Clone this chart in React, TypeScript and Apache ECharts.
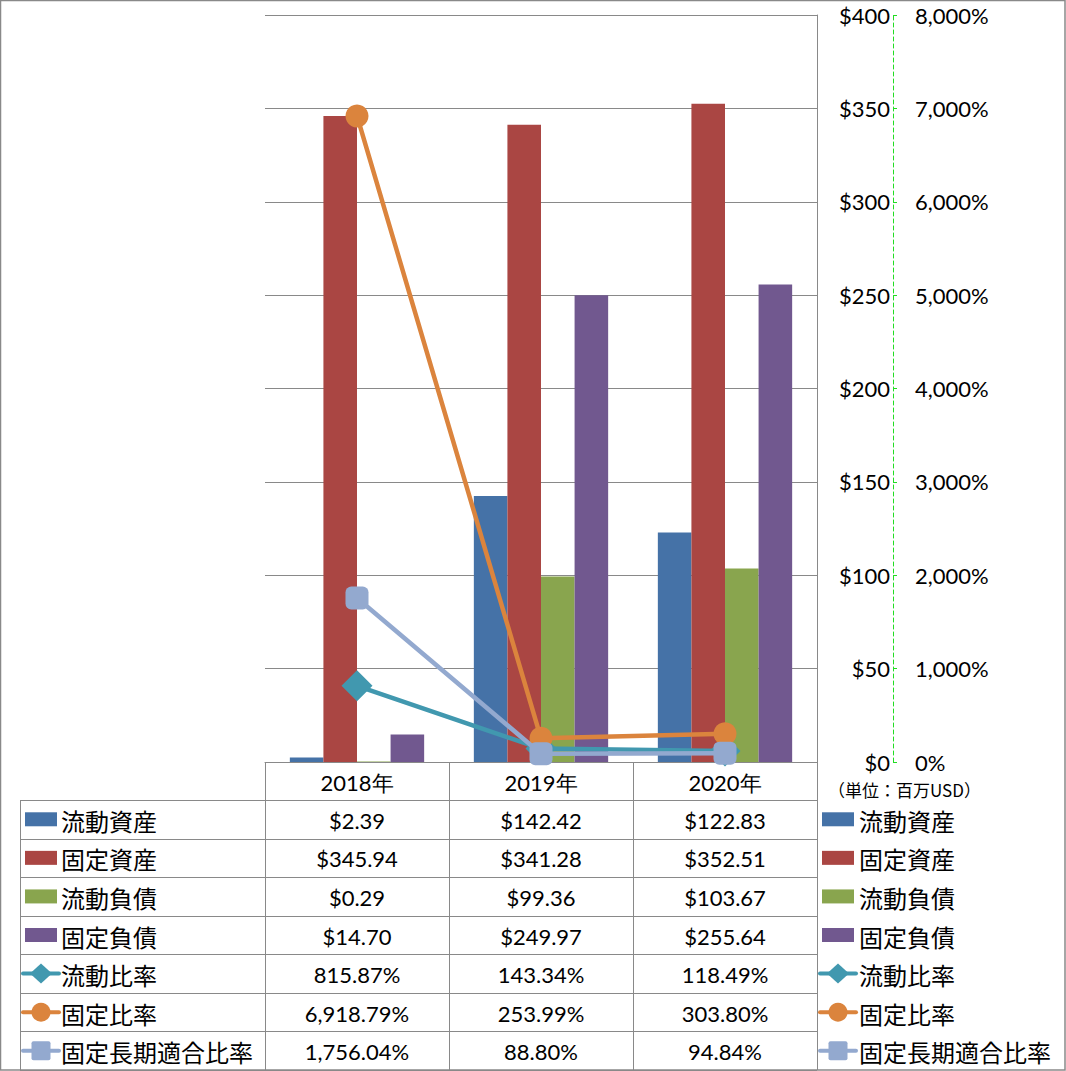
import React, { useEffect, useRef } from "react";
import * as echarts from "echarts";

const years = ["2018年", "2019年", "2020年"];
const barNames = ["流動資産", "固定資産", "流動負債", "固定負債"];
const currentAssets = [2.39, 142.42, 122.83];
const fixedAssets = [345.94, 341.28, 352.51];
const currentLiabilities = [0.29, 99.36, 103.67];
const fixedLiabilities = [14.7, 249.97, 255.64];
const lineNames = ["流動比率", "固定比率", "固定長期適合比率"];
const currentRatio = [815.87, 143.34, 118.49];
const fixedRatio = [6918.79, 253.99, 303.8];
const fixedLongTermRatio = [1756.04, 88.8, 94.84];
const usdAxis = { min: 0, max: 400, interval: 50 };
const pctAxis = { min: 0, max: 8000, interval: 1000 };
const unitLabel = "（単位：百万USD）";

const barColors = ["#4572A7", "#AA4643", "#89A54E", "#71588F"];
const lineColors = ["#4198AF", "#DB843D", "#93A9CF"];
const lineSymbols = ["diamond", "circle", "roundRect"];
const lineSymbolSizes = [31, 23, 23];

const W = 1066;
const H = 1071;
const L = 265;
const R = 817;
const T = 15;
const B = 762;
const TABLE_TOP = 800;
const TABLE_BOTTOM = 1070;
const TABLE_LEFT = 20;
const GRID = "#898989";
const NUM_FONT = "Lato, 'Open Sans', sans-serif";
const CJK_FONT = "'Noto Sans CJK JP', sans-serif";

const fmtUsd = (v: number) => "$" + v.toFixed(2);
const fmtPct = (v: number) =>
  v.toLocaleString("en-US", { minimumFractionDigits: 2, maximumFractionDigits: 2 }) + "%";

function legendIcon(kind: string, color: string, x0: number, cy: number): any[] {
  if (kind === "bar") {
    return [
      {
        type: "rect",
        silent: true,
        shape: { x: x0 + 2, y: cy - 7, width: 32, height: 14 },
        style: { fill: color },
      },
    ];
  }
  const out: any[] = [
    {
      type: "line",
      silent: true,
      shape: { x1: x0, y1: cy, x2: x0 + 36, y2: cy },
      style: { stroke: color, lineWidth: 4, lineCap: "round" },
    },
  ];
  const cx = x0 + 18;
  if (kind === "diamond") {
    out.push({
      type: "polygon",
      silent: true,
      shape: { points: [[cx, cy - 10], [cx + 11, cy], [cx, cy + 10], [cx - 11, cy]] },
      style: { fill: color },
    });
  } else if (kind === "circle") {
    out.push({ type: "circle", silent: true, shape: { cx, cy, r: 9.5 }, style: { fill: color } });
  } else {
    out.push({
      type: "rect",
      silent: true,
      shape: { x: cx - 9.5, y: cy - 9.5, width: 19, height: 19, r: 2 },
      style: { fill: color },
    });
  }
  return out;
}

export default function App() {
  const ref = useRef<HTMLDivElement>(null);
  useEffect(() => {
    if (!ref.current) return;
    const chart = echarts.init(ref.current, null, { renderer: "svg" });
    const barData = [currentAssets, fixedAssets, currentLiabilities, fixedLiabilities];
    const lineData = [currentRatio, fixedRatio, fixedLongTermRatio];
    const rowTexts: string[][] = [
      ...barData.map((arr) => arr.map(fmtUsd)),
      ...lineData.map((arr) => arr.map(fmtPct)),
    ];
    const rowH = (TABLE_BOTTOM - TABLE_TOP) / rowTexts.length;
    const colW = (R - L) / years.length;

    const graphics: any[] = [];
    graphics.push({
      type: "rect",
      silent: true,
      shape: { x: 0.5, y: 0.5, width: W - 1.5, height: H - 1.5 },
      style: { fill: "none", stroke: GRID, lineWidth: 1.5 },
    });
    for (let i = 0; i <= years.length; i++) {
      const x = Math.round(L + i * colW) + 0.5;
      graphics.push({
        type: "line",
        silent: true,
        shape: { x1: x, y1: B, x2: x, y2: TABLE_BOTTOM },
        style: { stroke: GRID, lineWidth: 1 },
      });
    }
    graphics.push({
      type: "line",
      silent: true,
      shape: { x1: TABLE_LEFT + 0.5, y1: TABLE_TOP, x2: TABLE_LEFT + 0.5, y2: TABLE_BOTTOM },
      style: { stroke: GRID, lineWidth: 1 },
    });
    for (let r = 0; r <= rowTexts.length; r++) {
      const y = Math.round(TABLE_TOP + r * rowH) + 0.5;
      graphics.push({
        type: "line",
        silent: true,
        shape: { x1: TABLE_LEFT, y1: y, x2: R, y2: y },
        style: { stroke: GRID, lineWidth: 1 },
      });
    }
    years.forEach((yr, i) => {
      graphics.push({
        type: "text",
        silent: true,
        x: L + (i + 0.5) * colW,
        y: (B + TABLE_TOP) / 2 + 1,
        style: {
          text: yr,
          fill: "#000",
          font: `22px ${NUM_FONT}`,
          align: "center",
          verticalAlign: "middle",
        },
      });
    });
    rowTexts.forEach((row, r) => {
      row.forEach((txt, i) => {
        graphics.push({
          type: "text",
          silent: true,
          x: L + (i + 0.5) * colW,
          y: TABLE_TOP + (r + 0.5) * rowH + 1,
          style: {
            text: txt,
            fill: "#000",
            font: `22px ${NUM_FONT}`,
            align: "center",
            verticalAlign: "middle",
          },
        });
      });
    });
    graphics.push({
      type: "text",
      silent: true,
      x: 828,
      y: 789,
      style: {
        text: unitLabel,
        fill: "#000",
        font: `17px ${CJK_FONT}`,
        align: "left",
        verticalAlign: "middle",
      },
    });

    const allNames = [...barNames, ...lineNames];
    const kinds = [...barNames.map(() => "bar"), ...lineSymbols];
    const colors = [...barColors, ...lineColors];
    [
      { iconX: 23, textX: 61 },
      { iconX: 820, textX: 859 },
    ].forEach(({ iconX, textX }) => {
      allNames.forEach((name, r) => {
        const cy = TABLE_TOP + (r + 0.5) * rowH;
        graphics.push(...legendIcon(kinds[r], colors[r], iconX, cy));
        graphics.push({
          type: "text",
          silent: true,
          x: textX,
          y: cy + 1,
          style: {
            text: name,
            fill: "#000",
            font: `24px ${CJK_FONT}`,
            align: "left",
            verticalAlign: "middle",
          },
        });
      });
    });

    const option: any = {
      animation: false,
      backgroundColor: "#fff",
      grid: { left: L, right: W - R, top: T, bottom: H - B, containLabel: false },
      xAxis: {
        type: "category",
        data: years,
        boundaryGap: true,
        axisLine: { show: true, lineStyle: { color: GRID, width: 1 } },
        axisTick: { show: false },
        axisLabel: { show: false },
      },
      yAxis: [
        {
          type: "value",
          position: "right",
          ...usdAxis,
          axisLine: { show: true, lineStyle: { color: GRID, width: 1 } },
          axisTick: { show: false },
          axisLabel: {
            margin: 73,
            align: "right",
            fontFamily: NUM_FONT,
            fontSize: 22,
            color: "#000",
            formatter: (v: number) => "$" + v,
          },
          splitLine: { show: true, lineStyle: { color: GRID, width: 1 } },
        },
        {
          type: "value",
          position: "right",
          offset: 76,
          ...pctAxis,
          axisLine: { show: true, lineStyle: { color: "#22dd22", width: 1, type: [4, 3] } },
          axisTick: { show: true, length: 4, lineStyle: { color: "#22dd22" } },
          axisLabel: {
            margin: 22,
            fontFamily: NUM_FONT,
            fontSize: 22,
            color: "#000",
            formatter: (v: number) => v.toLocaleString("en-US") + "%",
          },
          splitLine: { show: false },
        },
      ],
      series: [
        ...barNames.map((name, i) => ({
          name,
          type: "bar",
          yAxisIndex: 0,
          data: barData[i],
          barGap: "0%",
          barCategoryGap: "27%",
          itemStyle: { color: barColors[i] },
        })),
        ...lineNames.map((name, i) => ({
          name,
          type: "line",
          yAxisIndex: 1,
          data: lineData[i],
          symbol: lineSymbols[i],
          symbolSize: lineSymbolSizes[i],
          z: 3 + i,
          lineStyle: { color: lineColors[i], width: 4.5 },
          itemStyle: { color: lineColors[i] },
        })),
      ],
      graphic: graphics,
    };
    chart.setOption(option);
    return () => chart.dispose();
  }, []);
  return (
    <div
      ref={ref}
      style={{ position: "absolute", left: 0, top: 0, width: W, height: H, background: "#fff" }}
    />
  );
}
